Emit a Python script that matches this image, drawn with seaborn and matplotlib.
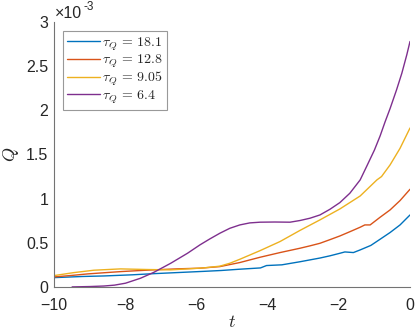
import matplotlib
matplotlib.use("Agg")
import matplotlib.pyplot as plt
import matplotlib.ticker as mticker
import pandas as pd
import seaborn as sns

# curves (Q in units of 1e-3)
t_181 = [-10, -9.2, -8.6, -7.8, -7.2, -6.5, -5.8, -5.3, -4.8, -4.2, -4.03, -3.6, -3.09,
         -2.81, -2.53, -2.25, -1.97, -1.83, -1.59, -1.4, -1.1, -0.84, -0.56, -0.28, 0]
q_181 = [0.105, 0.118, 0.124, 0.137, 0.15, 0.163, 0.176, 0.186, 0.2, 0.215, 0.242, 0.25, 0.285,
         0.306, 0.327, 0.352, 0.381, 0.396, 0.389, 0.419, 0.47, 0.54, 0.616, 0.702, 0.815]

t_128 = [-10, -9.5, -9.06, -8.5, -8.1, -7.6, -7.2, -6.5, -5.9, -5.34, -4.78, -4.21, -3.65,
         -3.09, -2.81, -2.53, -2.25, -1.97, -1.69, -1.4, -1.27, -1.12, -0.84, -0.56, -0.28, 0]
q_128 = [0.113, 0.13, 0.147, 0.163, 0.174, 0.185, 0.193, 0.205, 0.212, 0.23, 0.276, 0.336, 0.389,
         0.438, 0.465, 0.494, 0.535, 0.577, 0.625, 0.676, 0.702, 0.702, 0.789, 0.872, 0.978, 1.106]

t_905 = [-10, -9.44, -8.88, -8.13, -7.38, -6.72, -6.2, -5.8, -5.34, -5.06, -4.78, -4.21, -3.65,
         -3.09, -2.53, -1.97, -1.4, -0.93, -0.8, -0.56, -0.28, 0]
q_905 = [0.128, 0.162, 0.189, 0.204, 0.197, 0.193, 0.205, 0.215, 0.235, 0.268, 0.313, 0.411, 0.514,
         0.64, 0.759, 0.883, 1.03, 1.212, 1.25, 1.382, 1.57, 1.80]

t_64 = [-9.49, -9.0, -8.6, -8.3, -7.99, -7.57, -7.19, -6.72, -6.25, -5.9, -5.62, -5.34, -5.06,
        -4.78, -4.5, -4.21, -3.8, -3.37, -3.09, -2.81, -2.53, -2.25, -1.97, -1.69, -1.4, -1.2,
        -1.0, -0.84, -0.7, -0.56, -0.38, -0.23, -0.09, 0]
q_64 = [0.0, 0.004, 0.01, 0.02, 0.042, 0.098, 0.166, 0.268, 0.381, 0.476, 0.544, 0.608, 0.664,
        0.702, 0.725, 0.733, 0.735, 0.733, 0.752, 0.778, 0.815, 0.879, 0.955, 1.061, 1.212, 1.38,
        1.55, 1.71, 1.87, 2.02, 2.23, 2.42, 2.63, 2.78]

labels = [r"$\tau_Q \,=\, 18.1$", r"$\tau_Q \,=\, 12.8$", r"$\tau_Q \,=\, 9.05$", r"$\tau_Q \,=\, 6.4$"]
colors = ["#0072BD", "#D95319", "#EDB120", "#7E2F8E"]

frames = []
for lab, t, q in zip(labels, [t_181, t_128, t_905, t_64], [q_181, q_128, q_905, q_64]):
    frames.append(pd.DataFrame({"t": t, "Q": [v * 1e-3 for v in q], "tau": lab}))
df = pd.concat(frames, ignore_index=True)

sns.set_theme(style="white")
plt.rcParams["font.family"] = ["Liberation Sans", "DejaVu Sans"]
plt.rcParams["mathtext.fontset"] = "cm"

fig = plt.figure(figsize=(4.15, 3.34), dpi=100)
ax = fig.add_axes([0.130, 0.141, 0.858, 0.793])

sns.lineplot(data=df, x="t", y="Q", hue="tau", palette=colors, hue_order=labels,
             estimator=None, sort=True, linewidth=1.0, ax=ax)

ax.set_xlim(-10, 0)
ax.set_ylim(0, 3e-3)
ax.set_xticks([-10, -8, -6, -4, -2, 0])
ax.set_yticks([0, 0.5e-3, 1e-3, 1.5e-3, 2e-3, 2.5e-3, 3e-3])
ax.yaxis.set_major_formatter(mticker.FuncFormatter(lambda v, p: f"{v * 1e3:g}"))

# exponent label like MATLAB's
fig.text(55 / 415, 1 - 18 / 334, "\u00d710", fontsize=11.5, color="#262626", va="baseline")
fig.text(83 / 415, 1 - 10 / 334, "-3", fontsize=8.5, color="#262626", va="baseline")

ax.set_xlabel(r"$t$", fontsize=13, labelpad=1)
ax.set_ylabel(r"$Q$", fontsize=13, labelpad=4)

axcol = "0.45"
for s in ["top", "right"]:
    ax.spines[s].set_visible(False)
for s in ["left", "bottom"]:
    ax.spines[s].set_color(axcol)
    ax.spines[s].set_linewidth(0.8)
ax.tick_params(direction="in", length=3.5, width=0.8, color=axcol,
               labelsize=11.5, labelcolor="#262626")
ax.tick_params(axis="x", pad=8)
ax.tick_params(axis="y", pad=4)

leg = ax.legend(loc="upper left", bbox_to_anchor=(0.025, 0.966), fontsize=10,
                frameon=True, fancybox=False, edgecolor="0.5",
                handlelength=2.4, handletextpad=0.15, borderpad=0.3,
                labelspacing=0.0, borderaxespad=0)
leg.get_frame().set_linewidth(0.8)

fig.savefig("out.png", dpi=100)
